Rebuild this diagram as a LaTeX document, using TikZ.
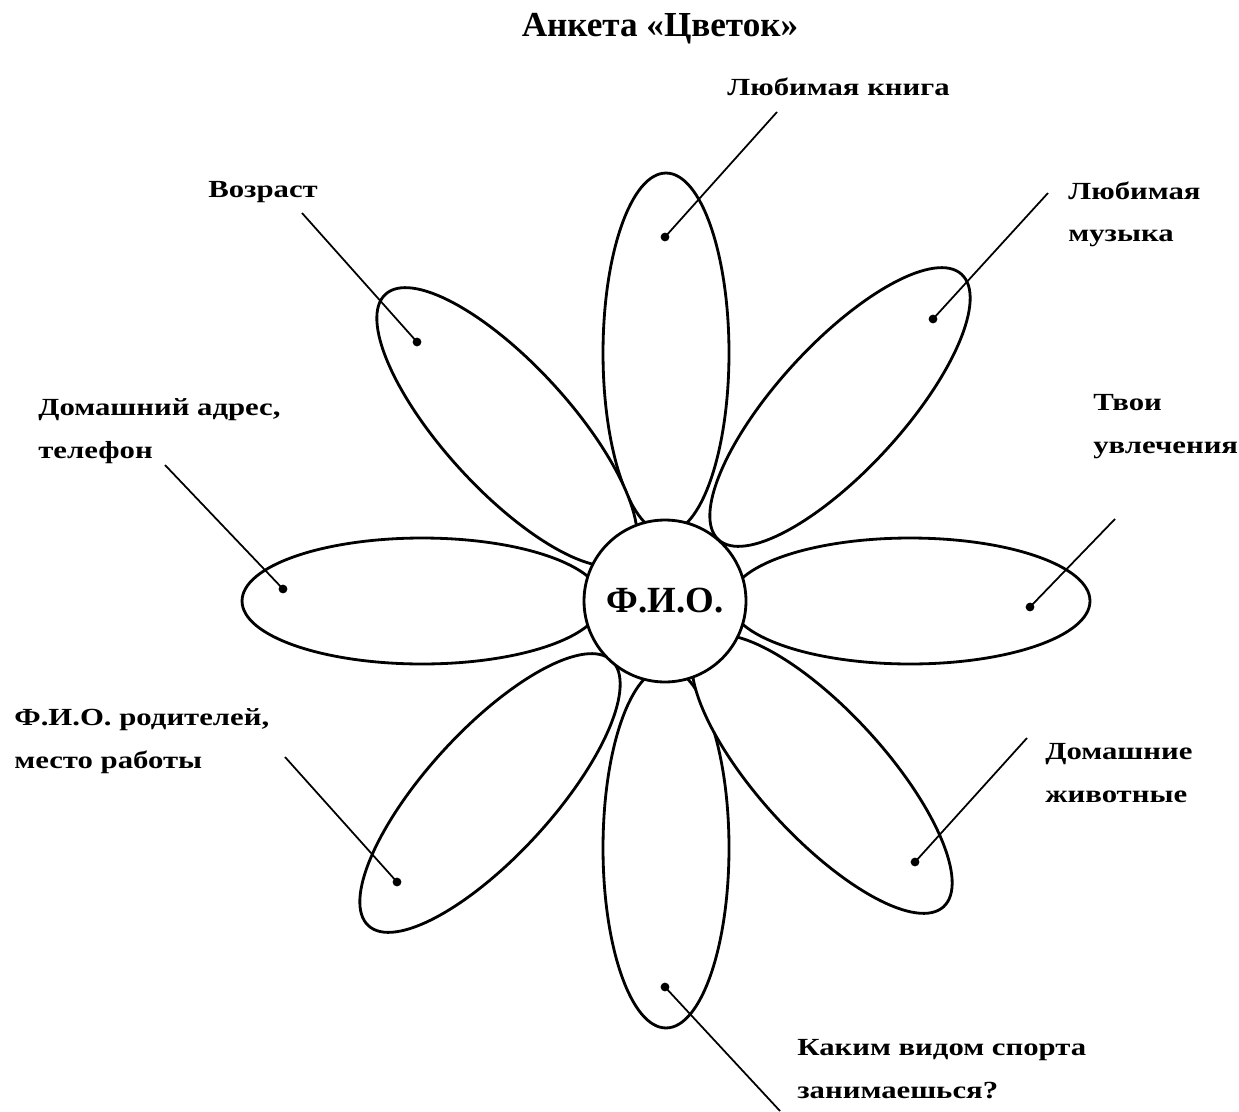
\documentclass[tikz,border=0pt]{standalone}
\usepackage{fontspec}
\setmainfont{Liberation Serif}
\newfontfamily\lblfont[FakeStretch=1.25]{Liberation Serif}
\usetikzlibrary{shapes.geometric}

\begin{document}
\begin{tikzpicture}[
  x=0.02cm, y=-0.02cm,
  petal/.style={ellipse, draw, fill=white, line width=1.6pt, minimum width=7.2cm, minimum height=2.52cm, inner sep=0pt},
  core/.style={circle, draw, fill=white, line width=1.6pt, minimum size=3.24cm, inner sep=0pt, font=\fontsize{21}{24}\selectfont\bfseries},
  dot/.style={circle, fill=black, inner sep=0pt, minimum size=5pt},
  lbl/.style={anchor=base west, align=left, inner sep=0pt, font=\fontsize{14}{24}\selectfont\lblfont\bfseries},
  lead/.style={line width=1pt}
]
  \useasboundingbox (0,0) rectangle (1239,1111);
  \node[anchor=base, font=\fontsize{20}{24}\selectfont\bfseries] (title) at (660,37) {Анкета «Цветок»};

  % petals along the axes
  \node[petal, rotate=90] (book) at (666,353) {};
  \node[petal, rotate=90] (sport) at (666,848) {};
  \node[petal] (address) at (422,601) {};
  \node[petal] (hobby) at (910,601) {};
  % diagonal petals lie on top
  \node[petal, rotate=-47.5] (age) at (507,427) {};
  \node[petal, rotate=47.5] (music) at (840,407) {};
  \node[petal, rotate=47.5] (parents) at (490,793) {};
  \node[petal, rotate=-47.5] (pets) at (822,774) {};
  \node[core] (fio) at (665,601) {Ф.И.О.};

  % dots, leads and labels
  \node[dot] (bookdot) at (665,237) {};
  \node[dot] (musicdot) at (933,319) {};
  \node[dot] (hobbydot) at (1030,607) {};
  \node[dot] (petsdot) at (915,862) {};
  \node[dot] (sportdot) at (665,987) {};
  \node[dot] (parentsdot) at (397,882) {};
  \node[dot] (addressdot) at (283,589) {};
  \node[dot] (agedot) at (417,342) {};

  \coordinate (bookend) at (777,112);
  \coordinate (musicend) at (1048,193);
  \coordinate (hobbyend) at (1115,519);
  \coordinate (petsend) at (1027,738);
  \coordinate (sportend) at (780,1111);
  \coordinate (parentsend) at (285,757);
  \coordinate (addressend) at (165,465);
  \coordinate (ageend) at (302,213);

  \draw[lead] (bookdot.center) -- (bookend);
  \draw[lead] (musicdot.center) -- (musicend);
  \draw[lead] (hobbydot.center) -- (hobbyend);
  \draw[lead] (petsdot.center) -- (petsend);
  \draw[lead] (sportdot.center) -- (sportend);
  \draw[lead] (parentsdot.center) -- (parentsend);
  \draw[lead] (addressdot.center) -- (addressend);
  \draw[lead] (agedot.center) -- (ageend);

  % base of a two-line label is its second line
  \node[lbl] (booklbl) at (727,96) {Любимая книга};
  \node[lbl] (musiclbl) at (1068,242) {Любимая\\музыка};
  \node[lbl] (hobbylbl) at (1093,453) {Твои\\увлечения};
  \node[lbl] (petslbl) at (1045,802) {Домашние\\животные};
  \node[lbl] (sportlbl) at (797,1098) {Каким видом спорта\\занимаешься?};
  \node[lbl] (parentslbl) at (14,768) {Ф.И.О. родителей,\\место работы};
  \node[lbl] (addresslbl) at (38,458) {Домашний адрес,\\телефон};
  \node[lbl] (agelbl) at (208,198) {Возраст};
\end{tikzpicture}
\end{document}
